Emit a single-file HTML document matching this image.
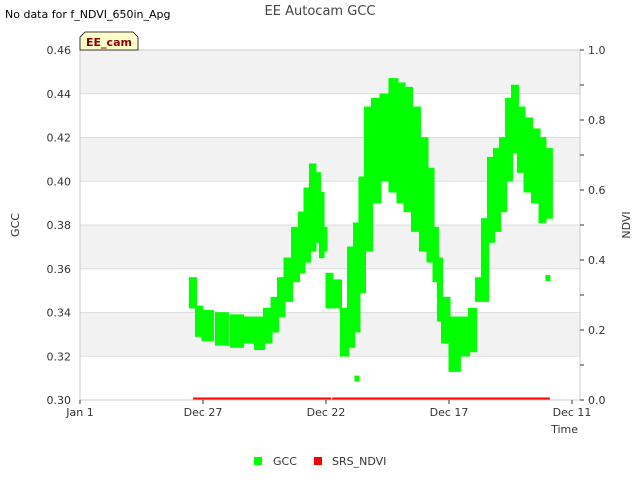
<!DOCTYPE html>
<html><head><meta charset="utf-8"><style>
body{margin:0;background:#fff;font-family:"Liberation Sans","DejaVu Sans",sans-serif}
svg text{font-family:"DejaVu Sans","Liberation Sans",sans-serif}
</style></head><body>
<svg width="640" height="480" xmlns="http://www.w3.org/2000/svg" id="chart">
<rect width="640" height="480" fill="#fff"/>
<g id="bands"></g><g id="grid"></g>
<g id="marks"></g>
<rect x="80" y="50" width="500" height="350" fill="none" stroke="#ccc"/>
<g id="axes" font-size="11" fill="#333"></g>
<text x="320" y="15" text-anchor="middle" font-size="13" fill="#444">EE Autocam GCC</text>
<text x="5" y="18" font-size="11" fill="#000">No data for f_NDVI_650in_Apg</text>
<path d="M80,50 L80,37 L85,32 L133,32 L138,37 L138,50 Z" fill="#ffffcc" stroke="#000" stroke-width="0.8"/>
<text x="109" y="46" text-anchor="middle" font-size="11" font-weight="bold" fill="#8b0000">EE_cam</text>
<text x="19" y="225" text-anchor="middle" font-size="11" fill="#333" transform="rotate(-90 19 225)">GCC</text>
<text x="630" y="225" text-anchor="middle" font-size="11" fill="#333" transform="rotate(-90 630 225)">NDVI</text>
<text x="578" y="433" text-anchor="end" font-size="11" fill="#333">Time</text>
<g><rect x="254" y="457" width="8" height="8" fill="#00ff00"/><text x="273" y="465" font-size="11" fill="#333">GCC</text></g>
<g><rect x="314" y="457" width="8" height="8" fill="#ff0000"/><text x="332" y="465" font-size="11" fill="#333">SRS_NDVI</text></g>
</svg>
<script>
const days=[4.63,4.80,5.16,5.77,6.38,6.91,7.32,7.64,7.93,8.17,8.46,8.78,9.02,9.23,9.47,9.67,9.84,9.96,10.08,10.45,10.77,11.02,11.26,11.46,11.71,12.03,12.40,12.76,13.05,13.33,13.66,13.98,14.27,14.47,14.63,14.80,15.24,15.65,15.98,16.22,16.46,16.71,16.95,17.20,17.44,17.68,17.93,18.21,18.54,18.82,19.02];
const gccHigh=[0.355,0.342,0.340,0.339,0.338,0.337,0.337,0.341,0.346,0.355,0.364,0.378,0.385,0.396,0.407,0.403,0.394,0.378,0.357,0.354,0.341,0.369,0.380,0.401,0.433,0.437,0.439,0.446,0.444,0.442,0.433,0.419,0.405,0.378,0.364,0.346,0.337,0.337,0.341,0.355,0.382,0.410,0.414,0.419,0.437,0.443,0.433,0.428,0.423,0.419,0.414];
const gccLow=[0.343,0.330,0.328,0.326,0.325,0.327,0.324,0.327,0.332,0.339,0.346,0.355,0.359,0.364,0.369,0.373,0.366,0.369,0.343,0.343,0.321,0.325,0.332,0.350,0.369,0.391,0.401,0.396,0.391,0.387,0.378,0.369,0.364,0.355,0.337,0.327,0.314,0.321,0.323,0.346,0.346,0.373,0.378,0.387,0.401,0.414,0.405,0.396,0.391,0.382,0.384];
const outlierDays=[11.26,19.02];
const outlierVals=[0.310,0.356];
const ndviSegStart=[4.6,10.25];
const ndviSegEnd=[10.2,19.1];
const ndviVals=[0.0,0.0];
const yTicks=[0.30,0.32,0.34,0.36,0.38,0.40,0.42,0.44,0.46];
const y2Ticks=[0,0.1,0.2,0.3,0.4,0.5,0.6,0.7,0.8,0.9,1.0];
const xTickDays=[0,5,10,15,20];
const xTickLabels=["Jan 1","Dec 27","Dec 22","Dec 17","Dec 11"];

const NS="http://www.w3.org/2000/svg";
const X=d=>80+d*24.6, Y=v=>400-(v-0.30)*2187.5, Y2=v=>400-v*350;
function el(t,a,p){const e=document.createElementNS(NS,t);for(const k in a)e.setAttribute(k,a[k]);document.getElementById(p).appendChild(e);return e;}
for(let i=0;i<yTicks.length-1;i++){
  if(i%2===1){const r=el('rect',{x:80,y:Y(yTicks[i+1]),width:500,height:Y(yTicks[i])-Y(yTicks[i+1]),fill:'#f2f2f2'},'bands');
  
  }
}
yTicks.forEach(v=>{
  const l=el('line',{x1:80,x2:580,y1:Y(v),y2:Y(v),stroke:'#ddd'},'grid');
  
  
  const t=el('text',{x:71,y:Y(v)+4,'text-anchor':'end'},'axes');t.textContent=v.toFixed(2);
  
  
});
y2Ticks.forEach((v,i)=>{
  const l=el('line',{x1:580,x2:584,y1:Y2(v),y2:Y2(v),stroke:'#333'},'axes');
  
  
  if(i%2===0){const t=el('text',{x:588,y:Y2(v)+4},'axes');t.textContent=v.toFixed(1);
  
  }
});
xTickDays.forEach((d,i)=>{
  const l=el('line',{x1:X(d),x2:X(d),y1:400,y2:404,stroke:'#333'},'axes');
  
  
  const t=el('text',{x:X(d),y:416,'text-anchor':'middle'},'axes');t.textContent=xTickLabels[i];
  
  
});
days.forEach((d,i)=>{
  const cx=X(d);
  const prev=i>0?X(days[i-1]):cx-8, next=i<days.length-1?X(days[i+1]):cx+8;
  const left=Math.max((prev+cx)/2-1,cx-7), right=Math.min((cx+next)/2+1,cx+7);
  const top=Y(gccHigh[i]),bot=Y(gccLow[i]);
  const r=el('rect',{x:left,y:top-2.5,width:right-left,height:bot-top+5,fill:'#00ff00'},'marks');
  
  
});
outlierDays.forEach((d,i)=>{
  const r=el('rect',{x:X(d)-2.5,y:Y(outlierVals[i])-2.5,width:5,height:6,fill:'#00ff00'},'marks');
  
  
});
ndviSegStart.forEach((s,i)=>{
  const l=el('line',{x1:X(s),x2:X(ndviSegEnd[i]),y1:Y2(ndviVals[i])-1,y2:Y2(ndviVals[i])-1,stroke:'#ff0000','stroke-width':3},'marks');
  
  
});
</script>
</body></html>
